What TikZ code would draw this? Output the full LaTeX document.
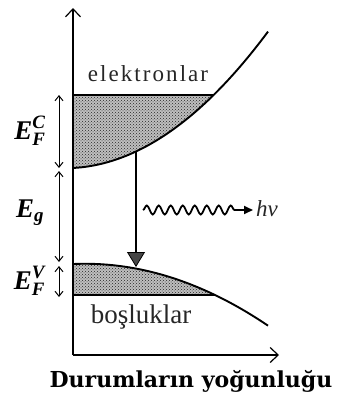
\documentclass[tikz,border=0pt]{standalone}
\usepackage{fontspec}
\usepackage{amsmath}
\setmainfont{Liberation Serif}
\newfontfamily\widebold{DejaVu Serif}
\usetikzlibrary{arrows.meta,patterns,decorations.pathmorphing}
\newcommand{\bi}[1]{\textbf{\textit{#1}}}
\begin{document}
\begin{tikzpicture}[x=1pt,y=-1pt]
\useasboundingbox (0,0) rectangle (337,399);
\tikzset{
  axis/.style={line width=1.4pt,-{Straight Barb[length=8pt,width=15pt,line width=1.2pt]}},
  band/.style={line width=1.9pt},
  fermi/.style={line width=1.5pt},
  dim/.style={line width=1pt,{Straight Barb[length=5pt,width=8pt]}-{Straight Barb[length=5pt,width=8pt]}},
  shade/.style={fill=gray!50,postaction={pattern=crosshatch dots,pattern color=gray!30!black}},
  lbl/.style={inner sep=0pt,text=black!85},
  elab/.style={inner sep=0pt,font=\fontsize{27}{27}\selectfont},
}
\coordinate (O) at (73,355);
\coordinate (ytop) at (73,8);
\coordinate (xend) at (279,355);
% shaded regions
\path[shade] (73,95) -- plot[domain=73:213.6,samples=30] (\x,{168.2-(0.057567*(\x-65))^2}) -- cycle;
\path[shade] (73,295) -- plot[domain=73:215,samples=30] (\x,{263.75+(0.043*(\x-85))^2}) -- cycle;
% axes
\draw[axis] (O) -- (ytop);
\draw[axis] (O) -- (xend);
% bands
\draw[band] plot[domain=73:268,samples=50] (\x,{168.2-(0.057567*(\x-65))^2});
\draw[band] plot[domain=73:268,samples=50] (\x,{263.75+(0.043*(\x-85))^2});
% fermi levels
\coordinate (fc0) at (73,95); \coordinate (fc1) at (213.6,95);
\coordinate (fv0) at (73,295); \coordinate (fv1) at (215,295);
\draw[fermi] (fc0) -- (fc1);
\draw[fermi] (fv0) -- (fv1);
% transition
\coordinate (ctop) at (136,151.5);
\coordinate (vbot) at (136,267);
\draw[line width=2.4pt,-{Triangle[length=15pt,width=18pt,fill=gray!55!black,line width=0.8pt]}] (ctop) -- (vbot);
% photon
\coordinate (w1) at (143,210);
\coordinate (w2) at (253,210);
\draw[line width=1.8pt,-{Triangle[length=9pt,width=8pt]},decorate,decoration={snake,amplitude=4.5pt,segment length=12pt,post length=13pt}] (w1) -- (w2);
\node[lbl,font=\itshape\fontsize{23}{23}\selectfont,anchor=west] (hv) at (256,209) {hν};
% dimension arrows
\coordinate (d1) at (59,95); \coordinate (d2) at (59,168);
\coordinate (d3) at (59,171); \coordinate (d4) at (59,262);
\coordinate (d5) at (59,266); \coordinate (d6) at (59,297);
\draw[dim] (d1) -- (d2);
\draw[dim] (d3) -- (d4);
\draw[dim] (d5) -- (d6);
\node[elab] (efc) at (30,131) {$\bi{E}^{\bi{C}}_{\bi{F}}$};
\node[elab] (eg) at (30,213) {$\bi{E}_{\bi{g}}$};
\node[elab] (efv) at (30,281) {$\bi{E}^{\bi{V}}_{\bi{F}}$};
% texts
\node[lbl,font=\fontsize{23}{23}\selectfont\addfontfeature{LetterSpace=9}] (el) at (148,74) {elektronlar};
\node[lbl,font=\fontsize{27}{27}\selectfont] (bo) at (141,317) {boşluklar};
\node[inner sep=0pt,font=\widebold\bfseries\fontsize{22}{22}\selectfont] (dy) at (191,381) {Durumların yoğunluğu};
\end{tikzpicture}
\end{document}
